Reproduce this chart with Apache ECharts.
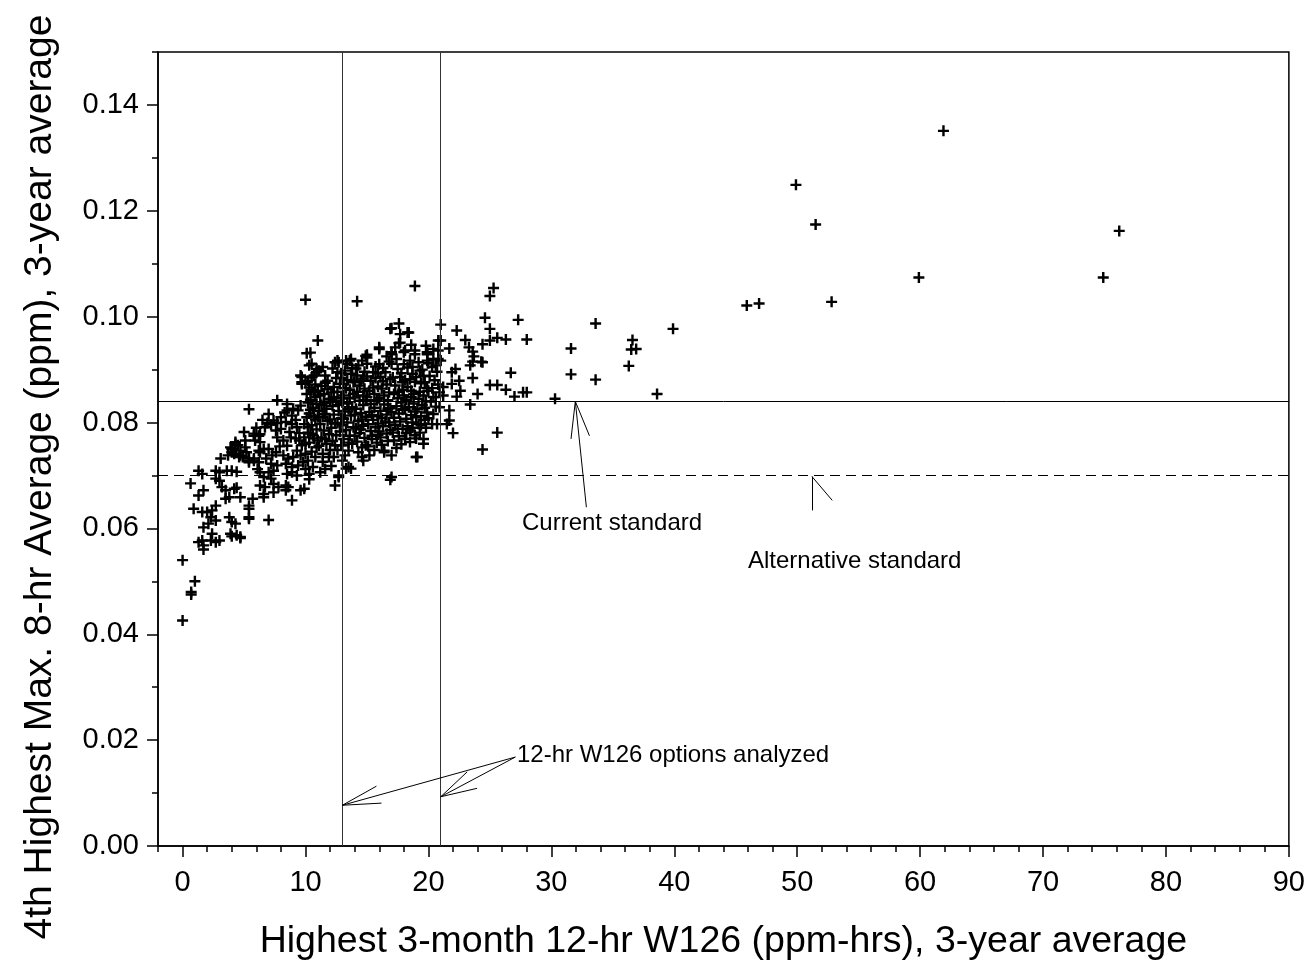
<!DOCTYPE html>
<html>
<head>
<meta charset="utf-8">
<script src="https://cdn.jsdelivr.net/npm/echarts@6/dist/echarts.min.js"></script>
<style>
html,body{margin:0;padding:0;background:#fff;}
#chart{width:1308px;height:967px;}
</style>
</head>
<body>
<div id="chart"></div>
<script>
// ---- Data ----
var xTitle = 'Highest 3-month 12-hr W126 (ppm-hrs), 3-year average';
var yTitle = '4th Highest Max. 8-hr Average (ppm), 3-year average';
var xTicks = [0, 10, 20, 30, 40, 50, 60, 70, 80, 90];
var yTicks = [0.00, 0.02, 0.04, 0.06, 0.08, 0.10, 0.12, 0.14];

var currentStandard = 0.084;
var alternativeStandard = 0.070;
var w126Options = [13, 21];

// sparse / outlying sites
var sparsePoints = [
 [61.9,0.1351],[49.9,0.1249],[51.5,0.1174],[76.2,0.1162],[52.8,0.1028],[59.9,0.1074],[74.9,0.1074],
 [45.9,0.1021],[46.9,0.1025],[39.9,0.0977],[38.6,0.0854],[36.6,0.0956],[36.5,0.0938],[36.9,0.0939],
 [36.3,0.0907],[33.6,0.0987],[33.6,0.0881],[31.6,0.0940],[31.6,0.0891],[30.3,0.0845],[27.3,0.0994],
 [28.0,0.0957],[26.3,0.0957],[25.6,0.0960],[25.0,0.0955],[25.0,0.0977],[24.6,0.0998],[25.3,0.1054],
 [25.0,0.1039],[26.7,0.0894],[25.0,0.0871],[25.6,0.0871],[26.3,0.0862],[27.0,0.0849],[27.7,0.0857],
 [28.0,0.0857],[25.6,0.0781],[24.4,0.0749],[24.4,0.0914],[24.4,0.0948],[22.3,0.0974],[23.0,0.0956],
 [23.3,0.0942],[23.6,0.0934],[23.7,0.0925],[23.6,0.0915],[23.4,0.0908],[24.3,0.0915],[22.2,0.0901],
 [21.9,0.0895],[22.5,0.0879],[23.6,0.0884],[24.0,0.0854],[23.4,0.0834],[22.6,0.0860],[22.3,0.0849],
 [21.9,0.0873],[22.0,0.0780],[21.7,0.0823],[21.7,0.0804],[14.2,0.1029],[10.0,0.1032],[18.9,0.1058]
];

// low-W126 sites (x < ~10.5)
var lowPoints = [
 [0.0,0.0540],[1.0,0.0500],[0.7,0.0480],[0.7,0.0475],[0.0,0.0426],
 [1.3,0.0574],[1.6,0.0577],[1.7,0.0568],[1.7,0.0560],[2.3,0.0577],[2.7,0.0574],[3.0,0.0577],[2.4,0.0590],
 [1.7,0.0602],[2.1,0.0609],[2.3,0.0621],[2.7,0.0615],[0.9,0.0637],[1.6,0.0631],[2.0,0.0631],[2.4,0.0634],
 [2.7,0.0643],[1.3,0.0662],[1.7,0.0672],[0.65,0.0685],[1.3,0.0709],[1.6,0.0703],[2.7,0.0709],[3.0,0.0706],
 [3.6,0.0709],[4.0,0.0709],[4.4,0.0707],[2.7,0.0694],[3.0,0.0690],[3.2,0.0678],[3.5,0.0672],[3.8,0.0659],
 [4.2,0.0675],[4.4,0.0677],[3.5,0.0656],[4.7,0.0659],[5.7,0.0656],[5.4,0.0643],[3.8,0.0621],[4.0,0.0612],
 [4.3,0.0609],[3.9,0.0590],[4.4,0.0587],[4.7,0.0584],[4.0,0.0585],[4.7,0.0582],[5.4,0.0621],[5.4,0.0637],
 [7.0,0.0616],[5.4,0.0618],[6.6,0.0659],[6.3,0.0681],[6.7,0.0678],[6.6,0.0665],[7.4,0.0684],[7.8,0.0678],
 [8.4,0.0681],[8.6,0.0678],[8.4,0.0672],[8.9,0.0653],[7.4,0.0668],[7.0,0.0706],[7.4,0.0709],[6.1,0.0712],
 [6.3,0.0706],[8.5,0.0703],[8.9,0.0706],[9.3,0.0700],[9.9,0.0675],[9.6,0.0672],[10.3,0.0693],[3.1,0.0732],
 [3.9,0.0753],[4.0,0.0744],[4.7,0.0747],[4.9,0.0735],[5.4,0.0732],[5.8,0.0732],[6.3,0.0744],[6.6,0.0750],
 [4.3,0.0763],[5.1,0.0766],[5.0,0.0782],[5.8,0.0775],[6.3,0.0778],[5.4,0.0825],[7.7,0.0842],[7.0,0.0816],
 [8.5,0.0823],[6.9,0.0799],[7.2,0.0796],[7.7,0.0799],[6.7,0.0791],[7.6,0.0785],[8.0,0.0788],[8.4,0.0801],
 [8.9,0.0797],[9.3,0.0791],[7.7,0.0772],[8.2,0.0766],[8.8,0.0772],[9.5,0.0766],[9.9,0.0772],[7.0,0.0750],
 [7.6,0.0744],[8.2,0.0738],[8.6,0.0732],[9.0,0.0735],[9.6,0.0738],[8.5,0.0835],[9.0,0.0826],[8.9,0.0813],
 [9.6,0.0832],[9.9,0.0797],[10.1,0.0810],[10.4,0.0779],[4.7,0.0738],[5.4,0.0725],[5.8,0.0728],[4.0,0.0750],
 [4.5,0.0757],[5.1,0.0753],[6.3,0.0763],[5.9,0.0766],[7.2,0.0722],[7.7,0.0719],[6.6,0.0697],[7.2,0.0694],
 [8.4,0.0722],[8.9,0.0716],[9.4,0.0719],[10.0,0.0712],[10.0,0.0741],[10.0,0.0760],[9.7,0.0757],[9.3,0.0747],
 [10.1,0.0854],[9.7,0.0886],[9.7,0.0873],[10.0,0.0876],[9.6,0.0889],[9.7,0.0876],[7.4,0.0804],[8.3,0.0819],
 [9.4,0.0823],[5.8,0.0779],[6.2,0.0775],[4.3,0.0760],[4.2,0.0741],[3.7,0.0738],[4.6,0.0735],[5.4,0.0728],
 [6.2,0.0725],[5.2,0.0744],[6.2,0.0747],
 [6.0,0.0790],[6.5,0.0805],[8.0,0.0810],[8.7,0.0782],[9.2,0.0805],[9.5,0.0780],[7.9,0.0755],[8.5,0.0756],
 [9.2,0.0770],[6.8,0.0732],[7.3,0.0738],[9.8,0.0725]
];

// dense core (x ~10 to ~22)
var corePoints = [
 [10.3,0.0703],[10.6,0.0716],[10.2,0.0728],[10.8,0.0735],[10.5,0.0745],[10.9,0.0753],[10.3,0.0762],[10.7,0.0770],
 [10.2,0.0781],[10.9,0.0787],[10.5,0.0795],[10.8,0.0806],[10.3,0.0817],[10.6,0.0828],[10.9,0.0835],[10.4,0.0843],
 [10.7,0.0858],[10.3,0.0866],[10.8,0.0872],[10.5,0.0885],[10.9,0.0901],[10.1,0.0931],[10.4,0.0932],[10.5,0.0911],
 [10.3,0.0908],[10.9,0.0895],[11.0,0.0955],
 [10.6,0.0776],[10.2,0.0791],[10.7,0.0812],[10.4,0.0824],[10.2,0.0838],[10.8,0.0848],[10.5,0.0861],[10.2,0.0879],[10.7,0.0889],
 [11.2,0.0706],[11.6,0.0712],[11.9,0.0735],[11.4,0.0741],[11.1,0.0756],[11.7,0.0760],[11.3,0.0772],[11.9,0.0778],
 [11.5,0.0785],[11.2,0.0797],[11.8,0.0803],[11.4,0.0811],[11.1,0.0822],[11.7,0.0826],[11.5,0.0837],[11.9,0.0845],
 [11.2,0.0851],[11.5,0.0854],[11.8,0.0863],[11.3,0.0869],[11.8,0.0879],[11.1,0.0898],[11.6,0.0889],[11.4,0.0905],
 [11.4,0.0726],[11.0,0.0766],[11.6,0.0769],[11.0,0.0810],[11.6,0.0816],[11.3,0.0833],[11.0,0.0860],[11.6,0.0875],
 [12.7,0.0700],[12.4,0.0681],[12.7,0.0697],[12.3,0.0735],[12.1,0.0718],[12.6,0.0748],[12.9,0.0757],[12.2,0.0765],
 [12.5,0.0776],[12.8,0.0783],[12.1,0.0790],[12.6,0.0799],[12.9,0.0808],[12.3,0.0815],[12.7,0.0822],[12.2,0.0831],
 [12.5,0.0840],[12.9,0.0846],[12.3,0.0848],[12.6,0.0858],[12.3,0.0867],[12.8,0.0873],[12.4,0.0914],[12.7,0.0914],
 [12.6,0.0917],[12.9,0.0893],[12.5,0.0884],
 [12.0,0.0748],[12.4,0.0757],[12.0,0.0806],[12.4,0.0798],[12.0,0.0840],[12.7,0.0833],[12.1,0.0857],[12.6,0.0895],[12.2,0.0902],
 [13.3,0.0713],[13.7,0.0713],[13.5,0.0716],[13.0,0.0728],[13.5,0.0747],[13.2,0.0738],[13.8,0.0760],[13.1,0.0769],
 [13.6,0.0775],[13.3,0.0786],[13.9,0.0791],[13.4,0.0800],[13.1,0.0807],[13.7,0.0813],[13.2,0.0821],[13.8,0.0829],
 [13.4,0.0836],[13.1,0.0851],[13.9,0.0854],[13.6,0.0862],[13.1,0.0873],[13.9,0.0876],[13.4,0.0880],[13.7,0.0892],
 [13.3,0.0917],[13.7,0.0920],[13.4,0.0911],[13.6,0.0917],[13.2,0.0898],
 [13.0,0.0757],[13.5,0.0762],[13.0,0.0795],[13.5,0.0825],[13.0,0.0838],[13.6,0.0846],[13.3,0.0865],[13.0,0.0884],[13.8,0.0903],
 [14.6,0.0735],[14.7,0.0728],[14.3,0.0744],[14.6,0.0753],[14.9,0.0757],[14.2,0.0764],[14.8,0.0771],[14.4,0.0780],
 [14.1,0.0789],[14.7,0.0794],[14.3,0.0803],[14.9,0.0811],[14.5,0.0818],[14.1,0.0826],[14.7,0.0833],[14.4,0.0841],
 [14.7,0.0851],[14.2,0.0858],[14.8,0.0864],[14.5,0.0879],[14.3,0.0908],[14.6,0.0917],[14.9,0.0926],[14.2,0.0889],
 [14.8,0.0896],[14.4,0.0870],
 [14.0,0.0775],[14.5,0.0787],[14.0,0.0815],[14.6,0.0806],[14.0,0.0847],[14.9,0.0842],[14.0,0.0877],[14.7,0.0883],[14.1,0.0902],
 [15.2,0.0738],[15.6,0.0748],[15.1,0.0755],[15.8,0.0762],[15.4,0.0769],[15.9,0.0777],[15.3,0.0784],[15.7,0.0791],
 [15.1,0.0797],[15.5,0.0805],[15.9,0.0812],[15.2,0.0820],[15.6,0.0828],[15.3,0.0835],[15.8,0.0842],[15.6,0.0854],
 [15.2,0.0860],[15.9,0.0868],[15.3,0.0879],[15.7,0.0884],[15.7,0.0906],[15.0,0.0911],[15.0,0.0928],[15.0,0.0923],
 [16.0,0.0939],[15.5,0.0895],[16.0,0.0942],
 [15.4,0.0775],[15.9,0.0798],[15.4,0.0814],[15.0,0.0848],[15.5,0.0866],[15.0,0.0887],[15.9,0.0893],
 [16.4,0.0747],[16.4,0.0744],[16.9,0.0692],[17.0,0.0697],[16.2,0.0758],[16.7,0.0765],[16.1,0.0772],[16.6,0.0779],
 [16.9,0.0786],[16.3,0.0793],[16.8,0.0800],[16.2,0.0808],[16.6,0.0815],[16.1,0.0822],[16.9,0.0827],[16.4,0.0834],
 [16.7,0.0842],[16.4,0.0851],[16.8,0.0857],[16.2,0.0864],[16.6,0.0872],[16.1,0.0886],[16.9,0.0882],[16.5,0.0895],
 [16.3,0.0903],[16.8,0.0915],[16.9,0.0977],[17.0,0.0978],
 [16.0,0.0783],[16.5,0.0802],[16.0,0.0846],[16.7,0.0826],[16.3,0.0878],[16.0,0.0910],[16.6,0.0925],
 [17.0,0.0738],[17.4,0.0752],[17.8,0.0759],[17.2,0.0766],[17.6,0.0774],[17.1,0.0781],[17.9,0.0788],[17.3,0.0795],
 [17.7,0.0802],[17.2,0.0809],[17.6,0.0817],[17.9,0.0824],[17.4,0.0831],[17.8,0.0838],[17.2,0.0854],[17.5,0.0846],
 [17.9,0.0862],[17.3,0.0870],[17.7,0.0886],[17.5,0.0901],[17.0,0.0911],[17.0,0.0929],[17.0,0.0933],[17.7,0.0951],
 [17.6,0.0950],[17.7,0.0967],[17.6,0.0987],[18.0,0.0933],[17.4,0.0920],[17.8,0.0893],
 [17.5,0.0788],[17.0,0.0820],[17.6,0.0858],[17.1,0.0885],[17.9,0.0876],[17.3,0.0942],
 [18.5,0.0763],[18.1,0.0769],[18.5,0.0785],[18.9,0.0776],[18.3,0.0793],[18.7,0.0800],[18.2,0.0807],[18.6,0.0814],
 [18.9,0.0821],[18.4,0.0829],[18.8,0.0836],[18.2,0.0843],[18.0,0.0851],[18.8,0.0854],[18.6,0.0860],[18.3,0.0867],
 [18.5,0.0882],[18.9,0.0877],[18.3,0.0904],[18.5,0.0917],[18.1,0.0936],[18.9,0.0929],[18.9,0.0936],[18.4,0.0970],
 [18.3,0.0970],[18.7,0.0892],[18.6,0.0947],
 [18.2,0.0780],[18.7,0.0790],[18.1,0.0825],[18.6,0.0848],[18.1,0.0880],[18.7,0.0905],[18.0,0.0910],
 [19.1,0.0735],[19.0,0.0735],[19.6,0.0760],[19.6,0.0769],[19.3,0.0781],[19.8,0.0790],[19.2,0.0797],[19.7,0.0805],
 [19.4,0.0812],[19.9,0.0819],[19.1,0.0826],[19.5,0.0833],[19.8,0.0840],[19.6,0.0851],[19.3,0.0858],[19.9,0.0865],
 [19.0,0.0886],[19.6,0.0888],[19.4,0.0874],[19.2,0.0914],[19.9,0.0917],[19.9,0.0929],[19.9,0.0933],[19.5,0.0900],
 [19.8,0.0945],
 [19.0,0.0770],[19.4,0.0795],[19.0,0.0810],[19.7,0.0828],[19.2,0.0845],[19.7,0.0876],[19.3,0.0898],
 [20.3,0.0797],[20.7,0.0797],[20.4,0.0816],[20.9,0.0829],[20.2,0.0840],[20.6,0.0848],[20.4,0.0848],[20.9,0.0857],
 [20.3,0.0865],[20.8,0.0872],[20.5,0.0880],[20.1,0.0888],[20.7,0.0896],[20.3,0.0905],[20.8,0.0920],[20.4,0.0920],
 [20.4,0.0939],[20.8,0.0936],[20.8,0.0955],[21.0,0.0985],[21.0,0.0955],[21.0,0.0917],[21.2,0.0851],[21.5,0.0797],
 [21.2,0.0867],[21.7,0.0940],
 [20.0,0.0808],[20.6,0.0830],[20.0,0.0860],[20.6,0.0908],[20.0,0.0912]
];

// annotation arrows, in data units: [tip, tail] and arrowhead side ends
var currentArrow = {tip:[31.95,0.0840], tail:[32.85,0.0640], sides:[[31.6,0.0769],[33.1,0.0775]]};
var altArrow = {tip:[51.2,0.0698], tail:[51.2,0.0634], sides:[[52.85,0.0653]]};
var w126ArrowTail = [27.07,0.0168];
var w126Arrows = [
  {tip:[13,0.0077], sides:[[15.77,0.0113],[16.18,0.0081]]},
  {tip:[21,0.0093], sides:[[23.15,0.0140],[23.96,0.0109]]}
];

// ---- Build ----
var allPoints = sparsePoints.concat(lowPoints, corePoints);
var FONT = 'Liberation Sans, Arial, sans-serif';
var plus = 'path://M39,0H61V39H100V61H61V100H39V61H0V39H39Z';

function seg(a, b) { return [{coord:a}, {coord:b}]; }
var arrowSegs = [];
arrowSegs.push(seg(currentArrow.tail, currentArrow.tip));
currentArrow.sides.forEach(function(s){ arrowSegs.push(seg(currentArrow.tip, s)); });
arrowSegs.push(seg(altArrow.tail, altArrow.tip));
altArrow.sides.forEach(function(s){ arrowSegs.push(seg(altArrow.tip, s)); });
w126Arrows.forEach(function(a){
  arrowSegs.push(seg(w126ArrowTail, a.tip));
  a.sides.forEach(function(s){ arrowSegs.push(seg(a.tip, s)); });
});

var chart = echarts.init(document.getElementById('chart'), null, {renderer:'canvas'});
var axisLineStyle = {color:'#000', width:1.5};
chart.setOption({
  animation:false,
  backgroundColor:'#fff',
  grid:{left:158, right:18, top:52, bottom:121, show:true, borderColor:'#000', borderWidth:1.5, backgroundColor:'transparent'},
  xAxis:[
    {type:'value', min:-2, max:90, interval:2, position:'bottom',
     axisLine:{show:true, onZero:false, lineStyle:axisLineStyle},
     axisTick:{show:true, length:6, lineStyle:{color:'#000', width:1.5}},
     axisLabel:{show:false}, splitLine:{show:false}},
    {type:'value', min:-2, max:90, splitNumber:9, position:'bottom',
     axisLine:{show:false, onZero:false},
     axisTick:{show:true, length:11, lineStyle:{color:'#000', width:1.5}},
     axisLabel:{show:true, margin:22, fontSize:29, color:'#000', fontFamily:FONT, showMinLabel:false},
     splitLine:{show:false},
     name:xTitle, nameLocation:'middle', nameGap:77,
     nameTextStyle:{fontSize:37.5, color:'#000', fontFamily:FONT}}
  ],
  yAxis:[
    {type:'value', min:0, max:0.15, interval:0.01, position:'left',
     axisLine:{show:true, onZero:false, lineStyle:axisLineStyle},
     axisTick:{show:true, length:6, lineStyle:{color:'#000', width:1.5}},
     axisLabel:{show:false}, splitLine:{show:false}},
    {type:'value', min:0, max:0.15, interval:0.02, position:'left',
     axisLine:{show:false, onZero:false},
     axisTick:{show:true, length:11, lineStyle:{color:'#000', width:1.5}},
     axisLabel:{show:true, margin:19, fontSize:29, color:'#000', fontFamily:FONT, showMaxLabel:false,
       formatter:function(v){ return v.toFixed(2); }},
     splitLine:{show:false}}
  ],
  graphic:[
    {type:'text', x:40, y:477, rotation:Math.PI/2,
     style:{text:yTitle, fontSize:39, fill:'#000', fontFamily:FONT, align:'center', verticalAlign:'middle'}},
    {type:'text', x:522, y:523,
     style:{text:'Current standard', fontSize:24, fill:'#000', fontFamily:FONT, align:'left', verticalAlign:'middle'}},
    {type:'text', x:748, y:561,
     style:{text:'Alternative standard', fontSize:24, fill:'#000', fontFamily:FONT, align:'left', verticalAlign:'middle'}},
    {type:'text', x:517, y:755,
     style:{text:'12-hr W126 options analyzed', fontSize:24, fill:'#000', fontFamily:FONT, align:'left', verticalAlign:'middle'}}
  ],
  series:[
    {type:'scatter', xAxisIndex:0, yAxisIndex:0, data:allPoints,
     symbol:plus, symbolSize:11, itemStyle:{color:'#000', opacity:1}, silent:true, z:3},
    {type:'scatter', xAxisIndex:0, yAxisIndex:0, data:[], silent:true, z:2,
     markLine:{silent:true, symbol:'none', animation:false, precision:6, label:{show:false},
       lineStyle:{color:'#000', width:1, type:'solid', opacity:1},
       data:[
         {yAxis:currentStandard},
         {yAxis:alternativeStandard, lineStyle:{type:[10,6], color:'#000', width:1}},
         {xAxis:w126Options[0], lineStyle:{color:'#333', width:1}},
         {xAxis:w126Options[1], lineStyle:{color:'#333', width:1}}
       ].concat(arrowSegs)}}
  ]
});
</script>
</body>
</html>
